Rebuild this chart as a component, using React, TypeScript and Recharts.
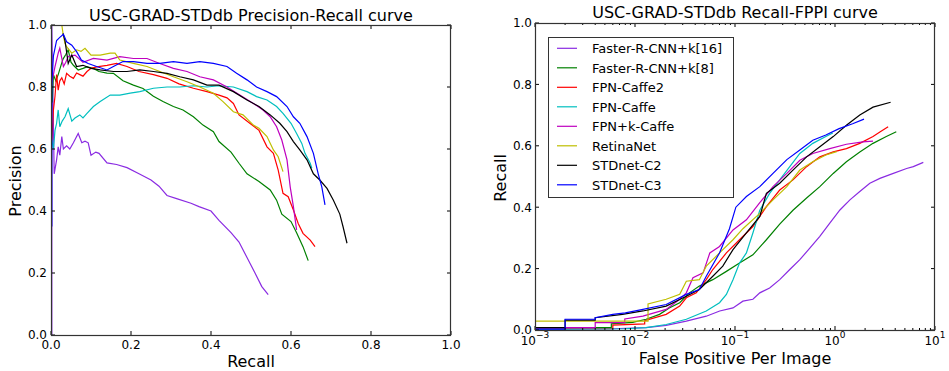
import React from 'react';
import { LineChart, Line, XAxis, YAxis } from 'recharts';

type Pt = [number, number];

// Precision-Recall curves, [recall, precision]
const prFasterK16: Pt[] = [
  [0.002, 0.0], [0.002, 1.0], [0.008, 0.52], [0.014, 0.565], [0.018, 0.607], [0.022, 0.58], [0.027, 0.64],
  [0.031, 0.6], [0.039, 0.61], [0.047, 0.6], [0.056, 0.62], [0.068, 0.65], [0.077, 0.62], [0.085, 0.625],
  [0.093, 0.62], [0.1, 0.58], [0.112, 0.59], [0.12, 0.586], [0.14, 0.555], [0.164, 0.55], [0.19, 0.54],
  [0.22, 0.52], [0.25, 0.5], [0.27, 0.48], [0.29, 0.45], [0.314, 0.44], [0.35, 0.425], [0.37, 0.414],
  [0.4, 0.4], [0.42, 0.37], [0.45, 0.33], [0.47, 0.3], [0.49, 0.25], [0.51, 0.2], [0.527, 0.156], [0.543, 0.13],
];
const prFasterK8: Pt[] = [
  [0.003, 0.75], [0.006, 0.84], [0.012, 0.82], [0.018, 0.84], [0.025, 0.87], [0.03, 0.89], [0.037, 0.905],
  [0.043, 0.92], [0.05, 0.88], [0.056, 0.87], [0.068, 0.855], [0.08, 0.86], [0.09, 0.865], [0.106, 0.86],
  [0.12, 0.85], [0.14, 0.845], [0.156, 0.844], [0.18, 0.82], [0.206, 0.806], [0.23, 0.795], [0.256, 0.77],
  [0.28, 0.753], [0.306, 0.737], [0.33, 0.726], [0.356, 0.704], [0.38, 0.677], [0.406, 0.656], [0.42, 0.624],
  [0.45, 0.59], [0.47, 0.554], [0.49, 0.52], [0.52, 0.495], [0.548, 0.468], [0.564, 0.435], [0.577, 0.39],
  [0.6, 0.366], [0.614, 0.33], [0.63, 0.285], [0.643, 0.24],
];
const prFpnCaffe2: Pt[] = [
  [0.002, 0.62], [0.006, 0.725], [0.01, 0.77], [0.014, 0.84], [0.018, 0.79], [0.022, 0.82], [0.027, 0.83],
  [0.033, 0.81], [0.039, 0.844], [0.047, 0.835], [0.056, 0.828], [0.064, 0.845], [0.072, 0.84], [0.08, 0.835],
  [0.09, 0.85], [0.1, 0.86], [0.114, 0.865], [0.14, 0.87], [0.164, 0.876], [0.19, 0.866], [0.22, 0.85],
  [0.256, 0.84], [0.29, 0.828], [0.32, 0.81], [0.356, 0.796], [0.39, 0.785], [0.42, 0.774], [0.44, 0.765],
  [0.456, 0.747], [0.47, 0.71], [0.497, 0.683], [0.52, 0.66], [0.54, 0.607], [0.556, 0.586], [0.568, 0.532],
  [0.58, 0.457], [0.593, 0.446], [0.606, 0.403], [0.618, 0.36], [0.63, 0.328], [0.648, 0.306], [0.66, 0.285],
];
const prFpnCaffe: Pt[] = [
  [0.002, 0.63], [0.006, 0.6], [0.01, 0.66], [0.014, 0.683], [0.018, 0.726], [0.022, 0.672], [0.028, 0.69],
  [0.035, 0.704], [0.043, 0.73], [0.052, 0.69], [0.06, 0.7], [0.072, 0.71], [0.08, 0.7], [0.09, 0.715],
  [0.106, 0.737], [0.123, 0.753], [0.148, 0.774], [0.172, 0.774], [0.198, 0.78], [0.222, 0.785], [0.256, 0.796],
  [0.29, 0.8], [0.322, 0.8], [0.356, 0.804], [0.39, 0.8], [0.42, 0.804], [0.456, 0.8], [0.49, 0.785],
  [0.514, 0.769], [0.54, 0.758], [0.564, 0.737], [0.58, 0.715], [0.6, 0.683], [0.614, 0.65], [0.627, 0.618],
  [0.635, 0.586], [0.648, 0.554], [0.652, 0.538],
];
const prFpnKCaffe: Pt[] = [
  [0.002, 0.82], [0.006, 0.84], [0.01, 0.866], [0.018, 0.909], [0.022, 0.925], [0.031, 0.866], [0.037, 0.88],
  [0.043, 0.898], [0.06, 0.903], [0.08, 0.88], [0.106, 0.892], [0.14, 0.887], [0.172, 0.898], [0.206, 0.892],
  [0.24, 0.892], [0.272, 0.876], [0.306, 0.86], [0.34, 0.85], [0.372, 0.833], [0.406, 0.823], [0.44, 0.8],
  [0.472, 0.774], [0.506, 0.747], [0.53, 0.726], [0.548, 0.704], [0.564, 0.672], [0.577, 0.629], [0.59, 0.565],
  [0.598, 0.478], [0.606, 0.414], [0.614, 0.339],
];
const prRetinaNet: Pt[] = [
  [0.027, 1.0], [0.03, 0.973], [0.035, 0.94], [0.039, 0.93], [0.052, 0.909], [0.064, 0.92], [0.075, 0.915],
  [0.085, 0.925], [0.1, 0.903], [0.123, 0.903], [0.148, 0.909], [0.16, 0.909], [0.172, 0.887], [0.206, 0.876],
  [0.24, 0.866], [0.272, 0.85], [0.306, 0.833], [0.34, 0.817], [0.372, 0.8], [0.406, 0.78], [0.43, 0.753],
  [0.456, 0.72], [0.48, 0.71], [0.506, 0.677], [0.52, 0.667], [0.54, 0.64], [0.556, 0.597], [0.568, 0.575],
  [0.58, 0.527],
];
const prStdnetC2: Pt[] = [
  [0.03, 0.973], [0.035, 0.95], [0.043, 0.876], [0.052, 0.903], [0.064, 0.866], [0.08, 0.87], [0.1, 0.86],
  [0.123, 0.855], [0.156, 0.85], [0.19, 0.85], [0.222, 0.855], [0.256, 0.85], [0.29, 0.844], [0.322, 0.833],
  [0.356, 0.823], [0.39, 0.806], [0.42, 0.806], [0.456, 0.785], [0.49, 0.758], [0.52, 0.737], [0.548, 0.71],
  [0.572, 0.683], [0.59, 0.656], [0.606, 0.624], [0.622, 0.597], [0.64, 0.565], [0.656, 0.52], [0.672, 0.5],
  [0.69, 0.473], [0.706, 0.435], [0.722, 0.39], [0.73, 0.35], [0.74, 0.296],
];
const prStdnetC3: Pt[] = [
  [0.002, 0.35], [0.002, 0.81], [0.006, 0.9], [0.014, 0.95], [0.022, 0.96], [0.031, 0.97], [0.039, 0.946],
  [0.052, 0.935], [0.064, 0.914], [0.076, 0.887], [0.093, 0.876], [0.114, 0.866], [0.14, 0.855], [0.156, 0.866],
  [0.18, 0.882], [0.206, 0.882], [0.24, 0.876], [0.272, 0.876], [0.306, 0.882], [0.34, 0.876], [0.372, 0.882],
  [0.406, 0.876], [0.44, 0.866], [0.464, 0.844], [0.49, 0.823], [0.514, 0.8], [0.54, 0.785], [0.564, 0.769],
  [0.59, 0.737], [0.606, 0.704], [0.622, 0.683], [0.64, 0.64], [0.656, 0.586], [0.668, 0.52], [0.677, 0.478],
  [0.685, 0.42],
];

// Recall-FPPI curves, [false positives per image, recall]
const fpFasterK16: Pt[] = [
  [0.001, 0.002], [0.006, 0.004], [0.0129, 0.008], [0.0205, 0.015], [0.0326, 0.029], [0.0516, 0.045],
  [0.0703, 0.062], [0.0955, 0.072], [0.12, 0.094], [0.151, 0.1], [0.177, 0.121], [0.222, 0.137], [0.28, 0.164],
  [0.353, 0.197], [0.445, 0.229], [0.56, 0.267], [0.705, 0.305], [0.887, 0.348], [1.12, 0.391], [1.41, 0.424],
  [1.77, 0.451], [2.23, 0.478], [2.81, 0.494], [3.83, 0.51], [5.2, 0.526], [6.07, 0.532], [7.64, 0.546],
];
const fpFasterK8: Pt[] = [
  [0.001, 0.008], [0.0058, 0.008], [0.0058, 0.02], [0.0095, 0.025], [0.0129, 0.035], [0.0176, 0.051],
  [0.022, 0.072], [0.028, 0.089], [0.035, 0.121], [0.044, 0.143], [0.06, 0.164], [0.082, 0.191], [0.111, 0.218],
  [0.151, 0.245], [0.206, 0.294], [0.28, 0.345], [0.38, 0.39], [0.52, 0.43], [0.705, 0.467], [0.96, 0.51],
  [1.3, 0.548], [1.77, 0.58], [2.4, 0.608], [3.26, 0.63], [4.1, 0.646],
];
const fpFpnCaffe2: Pt[] = [
  [0.001, 0.004], [0.006, 0.004], [0.006, 0.016], [0.0125, 0.02], [0.0125, 0.03], [0.0205, 0.051],
  [0.028, 0.078], [0.0326, 0.105], [0.041, 0.121], [0.0516, 0.164], [0.06, 0.197], [0.082, 0.251],
  [0.111, 0.294], [0.151, 0.337], [0.206, 0.402], [0.28, 0.456], [0.38, 0.489], [0.52, 0.532], [0.705, 0.564],
  [0.96, 0.58], [1.3, 0.591], [1.77, 0.608], [2.4, 0.63], [2.81, 0.645], [3.4, 0.662],
];
const fpFpnCaffe: Pt[] = [
  [0.001, 0.002], [0.008, 0.004], [0.0129, 0.008], [0.0205, 0.018], [0.0326, 0.035], [0.0516, 0.062],
  [0.07, 0.089], [0.082, 0.116], [0.0955, 0.164], [0.111, 0.218], [0.13, 0.251], [0.151, 0.316], [0.177, 0.39],
  [0.222, 0.445], [0.28, 0.489], [0.353, 0.532], [0.445, 0.575], [0.6, 0.608], [0.81, 0.63], [0.95, 0.642],
];
const fpFpnKCaffe: Pt[] = [
  [0.001, 0.008], [0.004, 0.008], [0.004, 0.024], [0.0079, 0.024], [0.0079, 0.036], [0.012, 0.045],
  [0.0205, 0.067], [0.028, 0.1], [0.0326, 0.121], [0.038, 0.17], [0.048, 0.186], [0.056, 0.251], [0.07, 0.272],
  [0.0955, 0.326], [0.13, 0.359], [0.177, 0.415], [0.24, 0.467], [0.33, 0.51], [0.445, 0.553], [0.6, 0.575],
  [0.887, 0.591], [1.3, 0.605], [1.9, 0.613], [2.4, 0.615],
];
const fpRetinaNet: Pt[] = [
  [0.001, 0.029], [0.0135, 0.029], [0.0135, 0.085], [0.0205, 0.1], [0.028, 0.116], [0.0326, 0.159],
  [0.044, 0.164], [0.0516, 0.208], [0.07, 0.251], [0.0955, 0.294], [0.12, 0.33], [0.177, 0.38], [0.24, 0.424],
  [0.33, 0.467], [0.445, 0.521], [0.6, 0.548], [0.81, 0.57], [1.04, 0.581],
];
const fpStdnetC2: Pt[] = [
  [0.001, 0.008], [0.002, 0.008], [0.002, 0.032], [0.004, 0.032], [0.004, 0.04], [0.0075, 0.051],
  [0.012, 0.062], [0.0205, 0.078], [0.0326, 0.11], [0.044, 0.132], [0.06, 0.175], [0.0755, 0.208],
  [0.0955, 0.262], [0.13, 0.316], [0.177, 0.37], [0.206, 0.445], [0.28, 0.478], [0.38, 0.521], [0.52, 0.564],
  [0.705, 0.597], [0.96, 0.63], [1.3, 0.667], [1.77, 0.7], [2.4, 0.726], [3.6, 0.742],
];
const fpStdnetC3: Pt[] = [
  [0.001, 0.003], [0.002, 0.003], [0.002, 0.035], [0.004, 0.035], [0.004, 0.04], [0.006, 0.051],
  [0.008, 0.056], [0.012, 0.067], [0.0205, 0.083], [0.0326, 0.116], [0.044, 0.132], [0.0516, 0.175],
  [0.07, 0.251], [0.088, 0.33], [0.102, 0.4], [0.13, 0.435], [0.177, 0.467], [0.24, 0.51], [0.33, 0.555],
  [0.445, 0.586], [0.6, 0.618], [0.81, 0.635], [1.1, 0.656], [1.5, 0.672], [1.95, 0.687],
];

const seriesNames = [
  'Faster-R-CNN+k[16]', 'Faster-R-CNN+k[8]', 'FPN-Caffe2', 'FPN-Caffe',
  'FPN+k-Caffe', 'RetinaNet', 'STDnet-C2', 'STDnet-C3',
];
const seriesColors = ['#8a2be2', '#008000', '#ff0000', '#00bfbf', '#bf00bf', '#bfbf00', '#000000', '#0000ff'];
const prCurves = [prFasterK16, prFasterK8, prFpnCaffe2, prFpnCaffe, prFpnKCaffe, prRetinaNet, prStdnetC2, prStdnetC3];
const fpCurves = [fpFasterK16, fpFasterK8, fpFpnCaffe2, fpFpnCaffe, fpFpnKCaffe, fpRetinaNet, fpStdnetC2, fpStdnetC3];

const unitTicks = [0, 0.2, 0.4, 0.6, 0.8, 1.0];
const logTicks = [0.001, 0.01, 0.1, 1, 10];
const minorMultipliers = [2, 3, 4, 5, 6, 7, 8, 9];
const minorTicks = logTicks.slice(0, -1).flatMap((d) => minorMultipliers.map((m) => +(d * m).toPrecision(3)));
const allLogTicks = [...logTicks, ...minorTicks].sort((a, b) => a - b);

const FONT = 'DejaVu Sans';
const FRAME = '#000';
const H = 371;
// plot boxes, in each chart's own coordinates
const PR = { chartX: 0, w: 470, left: 51, top: 25, width: 400, height: 310 };
const FP = { chartX: 480, w: 469, left: 55, top: 23, width: 400, height: 307 };

const toPts = (arr: Pt[]) => arr.map(([x, y]) => ({ x, y }));
const isMajor = (v: number) => logTicks.some((t) => Math.abs(t - v) < t * 1e-6);

// x ticks: inward marks on bottom and top spines plus the label
const makeXTick = (box: typeof PR, log: boolean) => (p: any) => {
  const v = p.payload.value;
  const bottom = box.top + box.height;
  const major = !log || isMajor(v);
  const len = major ? 4 : 2;
  let label: React.ReactNode = null;
  if (major && !log) {
    label = (
      <text x={p.x} y={bottom + 14} textAnchor="middle" fill="#000" fontSize={12} fontFamily={FONT}>
        {v.toFixed(1)}
      </text>
    );
  } else if (major) {
    const exp = Math.round(Math.log10(v));
    const expText = exp < 0 ? '\u2212' + Math.abs(exp) : String(exp);
    label = (
      <text x={p.x} y={bottom + 15} textAnchor="middle" fill="#000" fontSize={12} fontFamily={FONT}>
        <tspan>10</tspan>
        <tspan dy={-7} fontSize={9}>{expText}</tspan>
      </text>
    );
  }
  return (
    <g>
      <line x1={p.x} x2={p.x} y1={bottom} y2={bottom - len} stroke={FRAME} />
      <line x1={p.x} x2={p.x} y1={box.top} y2={box.top + len} stroke={FRAME} />
      {label}
    </g>
  );
};

// y ticks: inward marks on left and right spines plus the label
const makeYTick = (box: typeof PR, gap: number) => (p: any) => {
  const right = box.left + box.width;
  return (
    <g>
      <line x1={box.left} x2={box.left + 4} y1={p.y} y2={p.y} stroke={FRAME} />
      <line x1={right} x2={right - 4} y1={p.y} y2={p.y} stroke={FRAME} />
      <text x={box.left - gap} y={p.y + 4.3} textAnchor="end" fill="#000" fontSize={12} fontFamily={FONT}>
        {p.payload.value.toFixed(1)}
      </text>
    </g>
  );
};

const chartMargin = (box: typeof PR) => ({ top: box.top, right: box.w - box.left - box.width, bottom: 0, left: 0 });

const PrChart = () => (
  <LineChart width={PR.w} height={H} margin={chartMargin(PR)}>
    <XAxis dataKey="x" type="number" domain={[0, 1]} ticks={unitTicks} interval={0}
      height={H - PR.top - PR.height} tickSize={0} tickMargin={0} tickLine={false} axisLine={false}
      tick={makeXTick(PR, false)} allowDataOverflow />
    <YAxis type="number" domain={[0, 1]} ticks={unitTicks} interval={0} width={PR.left}
      tickSize={0} tickMargin={0} tickLine={false} axisLine={false} tick={makeYTick(PR, 4)} allowDataOverflow />
    {prCurves.map((c, i) => (
      <Line key={seriesNames[i]} data={toPts(c)} dataKey="y" type="linear" stroke={seriesColors[i]}
        strokeWidth={1.2} dot={false} activeDot={false} isAnimationActive={false} />
    ))}
  </LineChart>
);

const FppiChart = () => (
  <LineChart width={FP.w} height={H} margin={chartMargin(FP)}>
    <XAxis dataKey="x" type="number" scale="log" domain={[0.001, 10]} ticks={allLogTicks} interval={0}
      height={H - FP.top - FP.height} tickSize={0} tickMargin={0} tickLine={false} axisLine={false}
      tick={makeXTick(FP, true)} allowDataOverflow />
    <YAxis type="number" domain={[0, 1]} ticks={unitTicks} interval={0} width={FP.left}
      tickSize={0} tickMargin={0} tickLine={false} axisLine={false} tick={makeYTick(FP, 3)} allowDataOverflow />
    {fpCurves.map((c, i) => (
      <Line key={seriesNames[i]} data={toPts(c)} dataKey="y" type="linear" stroke={seriesColors[i]}
        strokeWidth={1.2} dot={false} activeDot={false} isAnimationActive={false} />
    ))}
  </LineChart>
);

const Annotations = () => (
  <svg width={949} height={H} style={{ position: 'absolute', left: 0, top: 0, pointerEvents: 'none' }}
    fontFamily={FONT} fill="#000">
    {[PR, FP].map((b) => (
      <rect key={b.chartX} x={b.chartX + b.left + 0.5} y={b.top + 0.5} width={b.width - 1} height={b.height}
        fill="none" stroke="#333" strokeWidth={1.2} />
    ))}
    <text x={251} y={21} textAnchor="middle" fontSize={16}>USC-GRAD-STDdb Precision-Recall curve</text>
    <text x={735} y={18} textAnchor="middle" fontSize={16}>USC-GRAD-STDdb Recall-FPPI curve</text>
    <text x={251} y={367} textAnchor="middle" fontSize={16}>Recall</text>
    <text x={735} y={364} textAnchor="middle" fontSize={16}>False Positive Per Image</text>
    <text transform="translate(21,181) rotate(-90)" textAnchor="middle" fontSize={16}>Precision</text>
    <text transform="translate(506,178) rotate(-90)" textAnchor="middle" fontSize={16}>Recall</text>
    <rect x={548.5} y={37.5} width={185} height={160} fill="#fff" stroke="#333" strokeWidth={1} />
    {seriesNames.map((name, i) => {
      const cy = 48.3 + i * 19.5;
      return (
        <g key={name}>
          <line x1={557} x2={577} y1={cy} y2={cy} stroke={seriesColors[i]} strokeWidth={1.2} />
          <text x={592} y={cy + 4.7} fontSize={13}>{name}</text>
        </g>
      );
    })}
  </svg>
);

export default function App() {
  return (
    <div style={{ position: 'absolute', left: 0, top: 0, width: 949, height: H, background: '#fff', fontFamily: FONT }}>
      <div style={{ position: 'absolute', left: PR.chartX, top: 0 }}>
        <PrChart />
      </div>
      <div style={{ position: 'absolute', left: FP.chartX, top: 0 }}>
        <FppiChart />
      </div>
      <Annotations />
    </div>
  );
}
